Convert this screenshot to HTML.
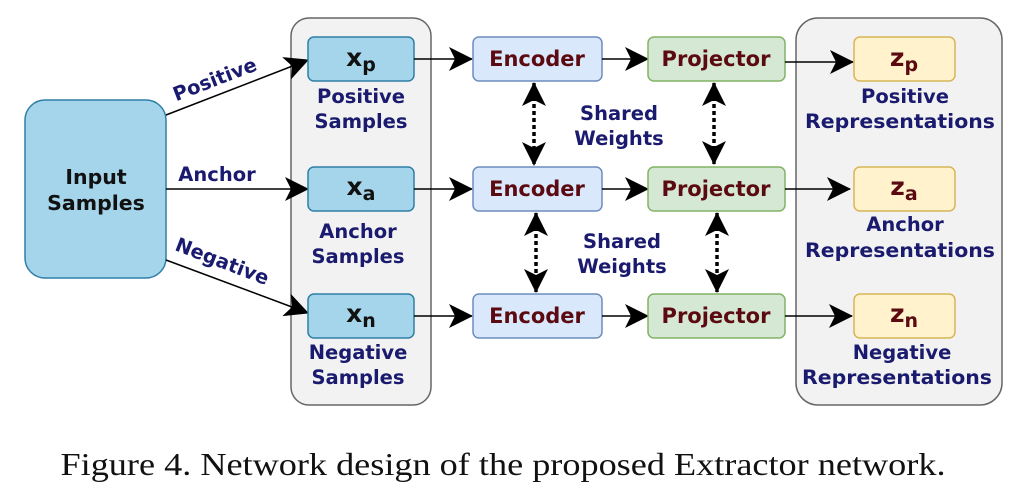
<!DOCTYPE html>
<html><head><meta charset="utf-8"><style>
html,body{margin:0;padding:0;background:#fff;}
svg{display:block;}
.t{font-family:"DejaVu Sans",sans-serif;font-weight:bold;fill:#1a1a6e;font-size:19.5px;text-anchor:middle;}
.b{font-family:"DejaVu Sans",sans-serif;font-weight:bold;fill:#5a0a10;font-size:21px;text-anchor:middle;}
.x{font-family:"DejaVu Sans",sans-serif;font-weight:bold;fill:#111;font-size:25px;text-anchor:middle;}
</style></head><body>
<svg width="1024" height="498" viewBox="0 0 1024 498" xmlns="http://www.w3.org/2000/svg">
<defs>
<marker id="a" viewBox="0 0 24 24" refX="23" refY="12" markerWidth="24" markerHeight="24" markerUnits="userSpaceOnUse" orient="auto-start-reverse">
<path d="M0,0 L24,12 L0,24 L6,12 Z" fill="#000"/>
</marker>
</defs>
<rect x="291" y="18" width="140" height="387" rx="18" fill="#f2f2f2" stroke="#666" stroke-width="1.5"/>
<rect x="796" y="18" width="206" height="387" rx="22" fill="#f2f2f2" stroke="#666" stroke-width="1.5"/>
<rect x="25" y="100" width="141" height="178" rx="20" fill="#a5d5ea" stroke="#2f7fa8" stroke-width="1.5"/>
<text class="t" x="96" y="184" style="fill:#111;font-size:20.5px">Input</text>
<text class="t" x="96" y="210" style="fill:#111;font-size:20.5px">Samples</text>
<line x1="166" y1="115" x2="308" y2="60" stroke="#000" stroke-width="1.5" marker-end="url(#a)"/>
<line x1="166" y1="189" x2="308" y2="189" stroke="#000" stroke-width="1.5" marker-end="url(#a)"/>
<line x1="166" y1="260" x2="308" y2="313" stroke="#000" stroke-width="1.5" marker-end="url(#a)"/>
<text class="t" x="215" y="86" transform="rotate(-21 215 80)">Positive</text>
<text class="t" x="217" y="181">Anchor</text>
<text class="t" x="222" y="268" transform="rotate(21 222 262)">Negative</text>
<g fill="#a5d5ea" stroke="#2f7fa8" stroke-width="1.5">
<rect x="308" y="37" width="106" height="44" rx="6"/>
<rect x="308" y="167" width="106" height="44" rx="6"/>
<rect x="308" y="294" width="106" height="44" rx="6"/>
</g>
<text class="x" x="361" y="66">x<tspan font-size="19" dy="5">p</tspan></text>
<text class="x" x="361" y="195">x<tspan font-size="19" dy="5">a</tspan></text>
<text class="x" x="361" y="322">x<tspan font-size="19" dy="5">n</tspan></text>
<text class="t" x="361" y="103">Positive</text><text class="t" x="361" y="128">Samples</text>
<text class="t" x="358" y="238">Anchor</text><text class="t" x="358" y="263">Samples</text>
<text class="t" x="358" y="359">Negative</text><text class="t" x="358" y="384">Samples</text>
<line x1="414" y1="59" x2="472" y2="59" stroke="#000" stroke-width="1.5" marker-end="url(#a)"/>
<line x1="414" y1="189" x2="472" y2="189" stroke="#000" stroke-width="1.5" marker-end="url(#a)"/>
<line x1="414" y1="316" x2="472" y2="316" stroke="#000" stroke-width="1.5" marker-end="url(#a)"/>
<g fill="#dae8fc" stroke="#6c8ebf" stroke-width="1.5">
<rect x="473" y="37" width="129" height="44" rx="6"/>
<rect x="473" y="167" width="129" height="44" rx="6"/>
<rect x="473" y="294" width="129" height="44" rx="6"/>
</g>
<text class="b" x="537" y="66">Encoder</text>
<text class="b" x="537" y="196">Encoder</text>
<text class="b" x="537" y="323">Encoder</text>
<line x1="602" y1="59" x2="648" y2="59" stroke="#000" stroke-width="1.5" marker-end="url(#a)"/>
<line x1="602" y1="189" x2="648" y2="189" stroke="#000" stroke-width="1.5" marker-end="url(#a)"/>
<line x1="602" y1="316" x2="648" y2="316" stroke="#000" stroke-width="1.5" marker-end="url(#a)"/>
<g fill="#d5e8d4" stroke="#82b366" stroke-width="1.5">
<rect x="648" y="37" width="137" height="44" rx="6"/>
<rect x="648" y="167" width="137" height="44" rx="6"/>
<rect x="648" y="294" width="137" height="44" rx="6"/>
</g>
<text class="b" x="716" y="66">Projector</text>
<text class="b" x="716" y="196">Projector</text>
<text class="b" x="716" y="323">Projector</text>
<line x1="785" y1="62" x2="853" y2="62" stroke="#000" stroke-width="1.5" marker-end="url(#a)"/>
<line x1="785" y1="189" x2="850" y2="189" stroke="#000" stroke-width="1.5" marker-end="url(#a)"/>
<line x1="785" y1="316" x2="852" y2="316" stroke="#000" stroke-width="1.5" marker-end="url(#a)"/>
<g fill="#fff2cc" stroke="#d6b656" stroke-width="1.5">
<rect x="854" y="37" width="101" height="44" rx="6"/>
<rect x="854" y="167" width="101" height="44" rx="6"/>
<rect x="854" y="294" width="101" height="44" rx="6"/>
</g>
<text class="x" x="904" y="66" style="fill:#5a0a10">z<tspan font-size="19" dy="5">p</tspan></text>
<text class="x" x="904" y="195" style="fill:#5a0a10">z<tspan font-size="19" dy="5">a</tspan></text>
<text class="x" x="904" y="322" style="fill:#5a0a10">z<tspan font-size="19" dy="5">n</tspan></text>
<text class="t" x="905" y="103">Positive</text><text class="t" x="900" y="128" textLength="190" lengthAdjust="spacingAndGlyphs">Representations</text>
<text class="t" x="905" y="231">Anchor</text><text class="t" x="900" y="257" textLength="190" lengthAdjust="spacingAndGlyphs">Representations</text>
<text class="t" x="902" y="359">Negative</text><text class="t" x="897" y="384" textLength="190" lengthAdjust="spacingAndGlyphs">Representations</text>
<g stroke="#000" stroke-width="3.5" stroke-dasharray="4,3">
<line x1="534" y1="83" x2="534" y2="165" marker-start="url(#a)" marker-end="url(#a)"/>
<line x1="714" y1="83" x2="714" y2="164" marker-start="url(#a)" marker-end="url(#a)"/>
<line x1="536" y1="213" x2="536" y2="292" marker-start="url(#a)" marker-end="url(#a)"/>
<line x1="717" y1="213" x2="717" y2="292" marker-start="url(#a)" marker-end="url(#a)"/>
</g>
<text class="t" x="619" y="120">Shared</text><text class="t" x="619" y="145">Weights</text>
<text class="t" x="622" y="248">Shared</text><text class="t" x="622" y="273">Weights</text>
<text x="503" y="475" font-family="Liberation Serif, serif" font-size="32" text-anchor="middle" fill="#111" textLength="885" lengthAdjust="spacingAndGlyphs">Figure 4. Network design of the proposed Extractor network.</text>
</svg>
</body></html>
